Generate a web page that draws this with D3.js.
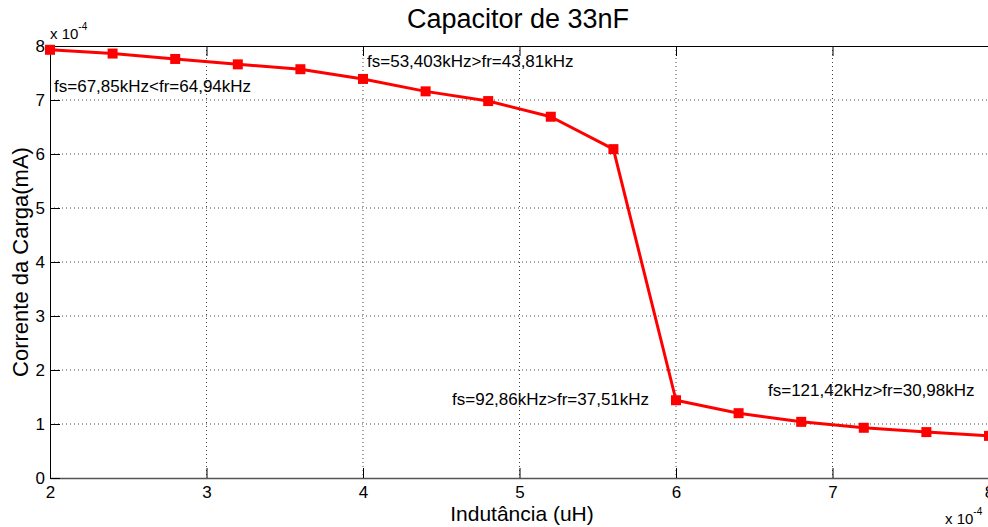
<!DOCTYPE html>
<html>
<head>
<meta charset="utf-8">
<script src="https://cdn.jsdelivr.net/npm/d3@7"></script>
<style>
html,body{margin:0;padding:0;background:#fff;overflow:hidden;}
svg{display:block;font-family:"Liberation Sans",Arial,sans-serif;}
</style>
</head>
<body>
<svg id="chart" width="988" height="527"></svg>
<script>
// Data (values in units of 1e-4)
const inductance = [2.0, 2.4, 2.8, 3.2, 3.6, 4.0, 4.4, 4.8, 5.2, 5.6, 6.0, 6.4, 6.8, 7.2, 7.6, 8.0];
const current = [7.93, 7.86, 7.76, 7.66, 7.57, 7.39, 7.16, 6.98, 6.69, 6.09, 1.44, 1.20, 1.04, 0.93, 0.85, 0.78];
const xTicks = [2, 3, 4, 5, 6, 7, 8];
const yTicks = [0, 1, 2, 3, 4, 5, 6, 7, 8];
const annotations = [
  {x: 2.026, y: 7.15, text: "fs=67,85kHz<fr=64,94kHz"},
  {x: 4.026, y: 7.61, text: "fs=53,403kHz>fr=43,81kHz"},
  {x: 4.569, y: 1.35, text: "fs=92,86kHz>fr=37,51kHz"},
  {x: 6.588, y: 1.52, text: "fs=121,42kHz>fr=30,98kHz"}
];
const title = "Capacitor de 33nF";
const xLabel = "Indutância (uH)";
const yLabel = "Corrente da Carga(mA)";

const svg = d3.select("#chart");
const L = 50, R = 989, T = 46, B = 478;
const x = d3.scaleLinear().domain([2, 8]).range([L, R]);
const y = d3.scaleLinear().domain([0, 8]).range([B, T]);

svg.append("rect").attr("width", 988).attr("height", 527).attr("fill", "#fff");

// grid
const grid = svg.append("g");
grid.selectAll(".gx").data(xTicks.slice(1, -1)).enter().append("line")
  .attr("x1", d => x(d)).attr("x2", d => x(d)).attr("y1", T).attr("y2", B)
  .attr("stroke", "#444").attr("stroke-width", 1).attr("stroke-dasharray", "1,3");
grid.selectAll(".gy").data(yTicks.slice(1, -1)).enter().append("line")
  .attr("y1", d => y(d)).attr("y2", d => y(d)).attr("x1", L).attr("x2", R)
  .attr("stroke", "#444").attr("stroke-width", 1).attr("stroke-dasharray", "1,3");

// axes (inward ticks)
const xAxisB = d3.axisBottom(x).tickValues(xTicks).tickSizeInner(-10).tickSizeOuter(0).tickPadding(8).tickFormat(d3.format("d"));
const gxb = svg.append("g").attr("transform", `translate(0,${B})`).call(xAxisB);
const xAxisT = d3.axisTop(x).tickValues(xTicks).tickSizeInner(-10).tickSizeOuter(0).tickFormat("");
const gxt = svg.append("g").attr("transform", `translate(0,${T})`).call(xAxisT);
const yAxisL = d3.axisLeft(y).tickValues(yTicks).tickSizeInner(-10).tickSizeOuter(0).tickPadding(5).tickFormat(d3.format("d"));
const gyl = svg.append("g").attr("transform", `translate(${L},0)`).call(yAxisL);

[gxb, gxt, gyl].forEach(g => {
  g.select(".domain").attr("stroke", "#000").attr("stroke-width", 1);
  g.selectAll(".tick line").attr("stroke", "#000");
  g.selectAll("text").attr("fill", "#000").attr("font-size", 17).attr("font-family", "Liberation Sans, Arial, sans-serif");
});
gxb.select(".domain").attr("stroke", "#555").attr("stroke-width", 1.5);
gxb.selectAll("text").attr("dy", "0.71em");
gyl.selectAll("text").attr("dy", "0.35em");

// exponent labels
const e1 = svg.append("text").attr("x", 50).attr("y", 39).attr("font-size", 15).attr("fill", "#000");
e1.append("tspan").text("x 10");
e1.append("tspan").attr("dy", -9).attr("font-size", 10).text("-4");
const e2 = svg.append("text").attr("x", 945).attr("y", 524).attr("font-size", 15).attr("fill", "#000");
e2.append("tspan").text("x 10");
e2.append("tspan").attr("dy", -9).attr("font-size", 10).text("-4");

// line
const line = d3.line().x((d, i) => x(inductance[i])).y(d => y(d));
svg.append("path").datum(current).attr("d", line)
  .attr("fill", "none").attr("stroke", "#ff0000").attr("stroke-width", 3).attr("stroke-linejoin", "round");
svg.selectAll(".mk").data(current).enter().append("rect")
  .attr("x", (d, i) => x(inductance[i]) - 5).attr("y", d => y(d) - 5)
  .attr("width", 10).attr("height", 10).attr("fill", "#ff0000");

// annotations
svg.selectAll(".ann").data(annotations).enter().append("text")
  .attr("x", d => x(d.x)).attr("y", d => y(d.y))
  .attr("font-size", 17).attr("fill", "#000").text(d => d.text);

// title and labels
svg.append("text").attr("x", 518).attr("y", 28).attr("text-anchor", "middle")
  .attr("font-size", 27).attr("fill", "#000").text(title);
svg.append("text").attr("x", 522).attr("y", 521).attr("text-anchor", "middle")
  .attr("font-size", 21).attr("fill", "#000").text(xLabel);
svg.append("text").attr("transform", `translate(28,262) rotate(-90)`).attr("text-anchor", "middle")
  .attr("font-size", 22).attr("fill", "#000").text(yLabel);
</script>
</body>
</html>
